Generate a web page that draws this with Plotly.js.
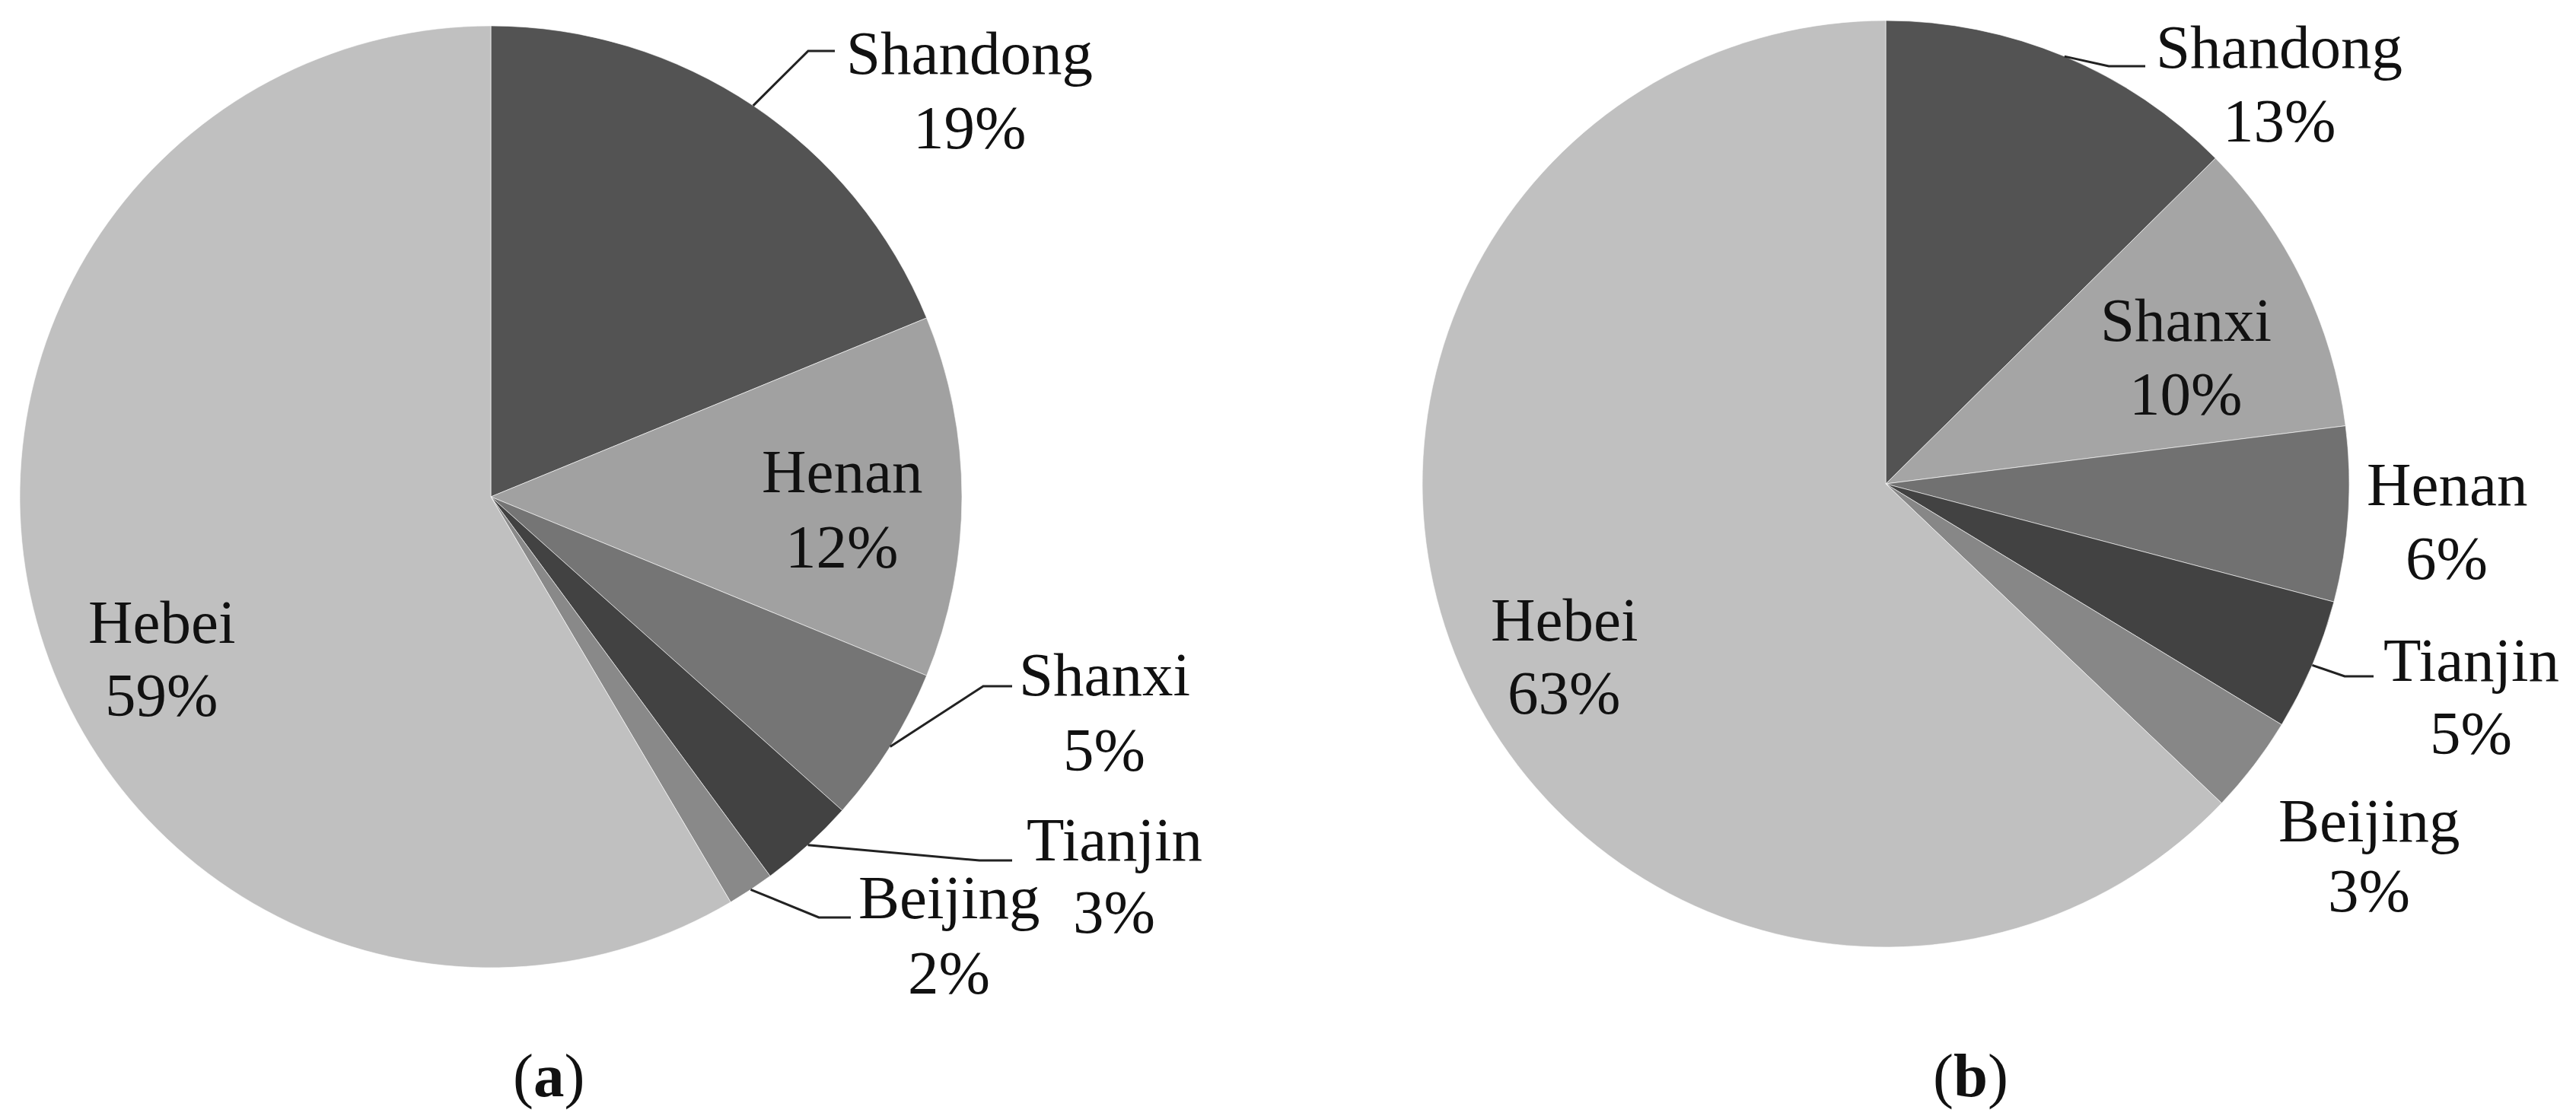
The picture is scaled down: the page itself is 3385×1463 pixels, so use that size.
<!DOCTYPE html>
<html>
<head>
<meta charset="utf-8">
<script src="https://cdn.plot.ly/plotly-3.0.1.min.js"></script>
<style>
  html, body { margin: 0; padding: 0; background: #fff; }
  #chart { width: 3385px; height: 1463px; }
</style>
</head>
<body>
<div id="chart"></div>
<script>
// data
const labelsA = ['Shandong', 'Henan', 'Shanxi', 'Tianjin', 'Beijing', 'Hebei'];
const valuesA = [18.8, 12.4, 5.4, 3.3, 1.6, 58.5];
const colorsA = ['#535353', '#a1a1a1', '#757575', '#424242', '#898989', '#c0c0c0'];

const labelsB = ['Shandong', 'Shanxi', 'Henan', 'Tianjin', 'Beijing', 'Hebei'];
const valuesB = [12.6, 10.4, 6.1, 4.6, 3.4, 62.9];
const colorsB = ['#535353', '#a5a5a5', '#717171', '#424242', '#878787', '#c0c0c0'];

const W = 3385, H = 1463;
const FONT = '"Liberation Serif", "Times New Roman", serif';
const FS = 81;

// pie geometry in pixels (center + radius)
const pieA = { cx: 645, cy: 653, r: 619, caption: '(<b>a</b>)', capX: 721 };
const pieB = { cx: 2478, cy: 636, r: 609, caption: '(<b>b</b>)', capX: 2589 };

// label placement: x, y of name line, y of percent line, optional leader elbow/end
const placeA = {
    Shandong: { x: 1274, y1: 70, y2: 168, elbow: [1062, 67], end: [1097, 67] },
    Henan:    { x: 1106, y1: 620, y2: 719 },
    Shanxi:   { x: 1451, y1: 887, y2: 986, elbow: [1292, 902], end: [1330, 902] },
    Tianjin:  { x: 1464, y1: 1104, y2: 1199, elbow: [1287, 1131], end: [1330, 1131] },
    Beijing:  { x: 1247, y1: 1180, y2: 1279, elbow: [1076, 1206], end: [1118, 1206] },
    Hebei:    { x: 212, y1: 818, y2: 914 }
};
const placeB = {
    Shandong: { x: 2995, y1: 62, y2: 159, elbow: [2771, 87], end: [2819, 87] },
    Shanxi:   { x: 2872, y1: 421, y2: 518 },
    Henan:    { x: 3215, y1: 637, y2: 734 },
    Tianjin:  { x: 3247, y1: 868, y2: 964, elbow: [3081, 889], end: [3119, 889] },
    Beijing:  { x: 3113, y1: 1079, y2: 1171 },
    Hebei:    { x: 2055, y1: 815, y2: 911 }
};

const px = x => x / W;
const py = y => 1 - y / H;

function pieTrace(labels, values, colors, pie) {
    return {
        type: 'pie',
        labels: labels,
        values: values,
        sort: false,
        direction: 'clockwise',
        rotation: 0,
        textinfo: 'none',
        hoverinfo: 'label+percent',
        showlegend: false,
        marker: { colors: colors, line: { color: 'rgba(255,255,255,0.6)', width: 1 } },
        domain: {
            x: [px(pie.cx - pie.r), px(pie.cx + pie.r)],
            y: [py(pie.cy + pie.r), py(pie.cy - pie.r)]
        }
    };
}

const annotations = [];
const shapes = [];

function addLabels(labels, values, pie, place) {
    const total = values.reduce((a, b) => a + b, 0);
    let cum = 0;
    labels.forEach((name, i) => {
        const frac = (cum + values[i] / 2) / total;
        cum += values[i];
        const p = place[name];
        const pct = Math.round(values[i] / total * 100) + '%';
        [[name, p.y1], [pct, p.y2]].forEach(([txt, y]) => {
            annotations.push({
                xref: 'paper', yref: 'paper', x: px(p.x), y: py(y),
                xanchor: 'center', yanchor: 'middle', showarrow: false,
                text: txt, font: { family: FONT, size: FS, color: '#111' }
            });
        });
        if (p.elbow) {
            // leader starts on the rim at the slice's middle angle
            const ang = frac * 2 * Math.PI;
            const ex = pie.cx + pie.r * Math.sin(ang);
            const ey = pie.cy - pie.r * Math.cos(ang);
            shapes.push({
                type: 'path', xref: 'paper', yref: 'paper',
                path: `M ${px(ex)},${py(ey)} L ${px(p.elbow[0])},${py(p.elbow[1])} L ${px(p.end[0])},${py(p.end[1])}`,
                line: { color: '#222', width: 3 }
            });
        }
    });
    annotations.push({
        xref: 'paper', yref: 'paper', x: px(pie.capX), y: py(1414),
        xanchor: 'center', yanchor: 'middle', showarrow: false,
        text: pie.caption, font: { family: FONT, size: FS, color: '#111' }
    });
}

addLabels(labelsA, valuesA, pieA, placeA);
addLabels(labelsB, valuesB, pieB, placeB);

const layout = {
    width: W,
    height: H,
    margin: { l: 0, r: 0, t: 0, b: 0 },
    paper_bgcolor: '#fff',
    plot_bgcolor: '#fff',
    showlegend: false,
    annotations: annotations,
    shapes: shapes
};

Plotly.newPlot('chart', [
    pieTrace(labelsA, valuesA, colorsA, pieA),
    pieTrace(labelsB, valuesB, colorsB, pieB)
], layout, { staticPlot: true });
</script>
</body>
</html>
